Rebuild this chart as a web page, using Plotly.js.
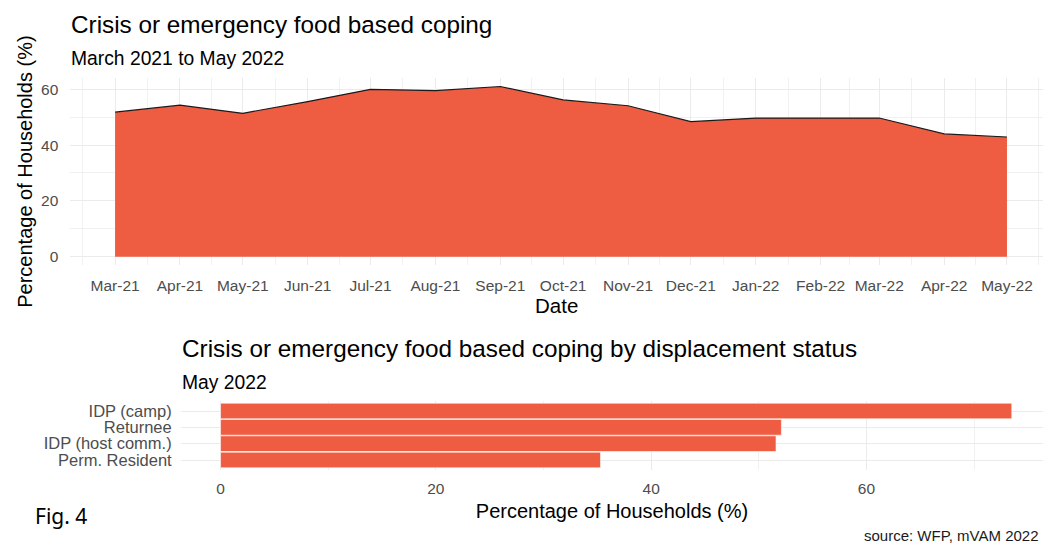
<!DOCTYPE html>
<html>
<head>
<meta charset="utf-8">
<script src="https://cdn.plot.ly/plotly-3.0.1.min.js"></script>
<style>html,body{margin:0;padding:0;background:#fff;}#chart{width:1043px;height:545px;}</style>
</head>
<body>
<div id="chart"></div>
<script>
// ---- Data ----
const dates = ['2021-03-01','2021-04-01','2021-05-01','2021-06-01','2021-07-01','2021-08-01','2021-09-01',
               '2021-10-01','2021-11-01','2021-12-01','2022-01-01','2022-02-01','2022-03-01','2022-04-01','2022-05-01'];
const monthLabels = ['Mar-21','Apr-21','May-21','Jun-21','Jul-21','Aug-21','Sep-21',
                     'Oct-21','Nov-21','Dec-21','Jan-22','Feb-22','Mar-22','Apr-22','May-22'];
const copingPct = [51.8, 54.3, 51.4, 55.6, 60.0, 59.5, 61.0, 56.2, 54.1, 48.4, 49.7, 49.7, 49.7, 44.0, 42.9];

const groups = ['IDP (camp)', 'Returnee', 'IDP (host comm.)', 'Perm. Resident'];
const groupPct = [73.5, 52.1, 51.6, 35.3];

const pctTicks = [0, 20, 40, 60];

// ---- Helpers ----
const FONT = 'Liberation Sans, Arial, sans-serif';
const FILL = '#EE5C42';
const GRID = '#EBEBEB';
const TICK = '#4D4D4D';
function fmt(ms){ return new Date(ms).toISOString().slice(0,19).replace('T',' '); }
const t = dates.map(d => Date.parse(d + 'T00:00:00Z'));
const mids = [fmt(t[0] - (t[1]-t[0])/2)];
for (let i = 0; i < t.length-1; i++) mids.push(fmt((t[i]+t[i+1])/2));
mids.push(fmt(t[t.length-1] + (t[t.length-1]-t[t.length-2])/2));

const W = 1043, H = 545;
const px = v => v / W;
const py = v => 1 - v / H;

const traces = [
  {
    type: 'scatter', mode: 'lines', x: dates, y: copingPct,
    fill: 'tozeroy', fillcolor: FILL,
    line: {color: '#1a1a1a', width: 1.2},
    xaxis: 'x', yaxis: 'y', hoverinfo: 'x+y', showlegend: false
  },
  {
    type: 'bar', orientation: 'h', x: groupPct, y: groups,
    marker: {color: FILL, line: {color: '#ffffff', width: 0.6}},
    width: 0.96,
    xaxis: 'x2', yaxis: 'y2', showlegend: false
  }
];

const layout = {
  width: W, height: H,
  margin: {l: 0, r: 0, t: 0, b: 0},
  paper_bgcolor: '#ffffff', plot_bgcolor: '#ffffff',
  font: {family: FONT, color: TICK},
  showlegend: false,
  xaxis: {
    domain: [px(70.4), 1],
    type: 'date',
    range: ['2021-02-07 16:00:00', '2022-05-18 05:00:00'],
    tickmode: 'array', tickvals: dates, ticktext: monthLabels,
    tickfont: {size: 15.5, color: TICK, family: FONT},
    ticks: 'outside', ticklen: 6, tickcolor: 'rgba(0,0,0,0)',
    showgrid: true, gridcolor: GRID, gridwidth: 1,
    minor: {tickmode: 'array', tickvals: mids, showgrid: true, gridcolor: GRID, gridwidth: 0.7, ticks: ''},
    zeroline: false, showline: false,
    title: {text: 'Date', font: {size: 20.5, color: '#000', family: FONT}, standoff: 5},
    automargin: false, fixedrange: true
  },
  yaxis: {
    domain: [py(265.2), py(78)],
    range: [-3.05, 64.05],
    tickmode: 'array', tickvals: pctTicks,
    tickfont: {size: 15.5, color: TICK, family: FONT},
    ticks: 'outside', ticklen: 8, tickcolor: 'rgba(0,0,0,0)',
    showgrid: true, gridcolor: GRID, gridwidth: 1,
    minor: {dtick: 10, showgrid: true, gridcolor: GRID, gridwidth: 0.7, ticks: ''},
    zeroline: false, showline: false,
    title: {text: 'Percentage of Households (%)', font: {size: 20, color: '#000', family: FONT}, standoff: 3},
    automargin: false, fixedrange: true
  },
  xaxis2: {
    domain: [px(181), 1],
    anchor: 'y2',
    range: [-3.675, 76.4],
    tickmode: 'array', tickvals: pctTicks,
    tickfont: {size: 15.5, color: TICK, family: FONT},
    ticks: 'outside', ticklen: 5, tickcolor: 'rgba(0,0,0,0)',
    showgrid: true, gridcolor: GRID, gridwidth: 1,
    minor: {dtick: 10, showgrid: true, gridcolor: GRID, gridwidth: 0.7, ticks: ''},
    zeroline: false, showline: false,
    title: {text: 'Percentage of Households (%)', font: {size: 20, color: '#000', family: FONT}, standoff: 7},
    automargin: false, fixedrange: true
  },
  yaxis2: {
    domain: [py(469.8), py(401.2)],
    anchor: 'x2',
    type: 'category',
    categoryorder: 'array', categoryarray: groups,
    autorange: false, range: [3.6, -0.6],
    tickmode: 'array', tickvals: groups, ticktext: groups,
    tickfont: {size: 16.5, color: TICK, family: FONT},
    ticks: 'outside', ticklen: 5, tickcolor: 'rgba(0,0,0,0)',
    showgrid: true, gridcolor: GRID, gridwidth: 1,
    zeroline: false, showline: false,
    automargin: false, fixedrange: true
  },
  annotations: [
    {text: 'Crisis or emergency food based coping', xref: 'paper', yref: 'paper',
     x: px(69), y: py(25), xanchor: 'left', yanchor: 'middle', showarrow: false,
     font: {size: 24.3, color: '#000', family: FONT}},
    {text: 'March 2021 to May 2022', xref: 'paper', yref: 'paper',
     x: px(69), y: py(58), xanchor: 'left', yanchor: 'middle', showarrow: false,
     font: {size: 19.3, color: '#000', family: FONT}},
    {text: 'Crisis or emergency food based coping by displacement status', xref: 'paper', yref: 'paper',
     x: px(180), y: py(348), xanchor: 'left', yanchor: 'middle', showarrow: false,
     font: {size: 24.3, color: '#000', family: FONT}},
    {text: 'May 2022', xref: 'paper', yref: 'paper',
     x: px(180), y: py(382), xanchor: 'left', yanchor: 'middle', showarrow: false,
     font: {size: 19.3, color: '#000', family: FONT}},
    {text: 'Fig. 4', xref: 'paper', yref: 'paper',
     x: px(33), y: py(516), xanchor: 'left', yanchor: 'middle', showarrow: false,
     font: {size: 21, color: '#000', family: 'Noto Sans, Open Sans, sans-serif'}},
    {text: 'source: WFP, mVAM 2022', xref: 'paper', yref: 'paper',
     x: px(1041), y: py(535), xanchor: 'right', yanchor: 'middle', showarrow: false,
     font: {size: 15, color: '#1a1a1a', family: FONT}}
  ]
};

Plotly.newPlot('chart', traces, layout, {displayModeBar: false, staticPlot: true});
</script>
</body>
</html>
